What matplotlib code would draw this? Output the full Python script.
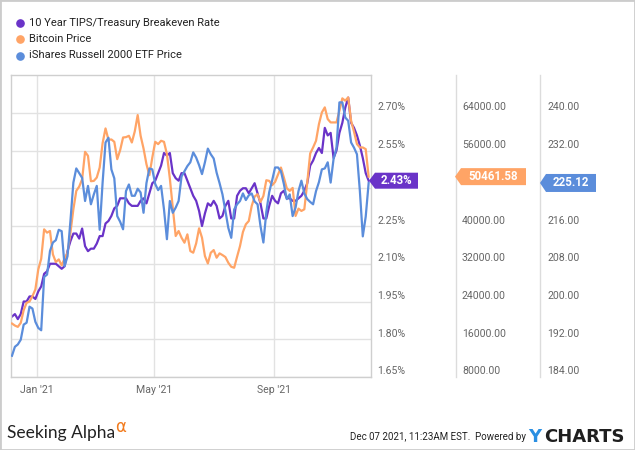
import matplotlib
matplotlib.use('Agg')
import matplotlib.pyplot as plt
import matplotlib.transforms as mtransforms
from matplotlib.patches import Polygon, Rectangle
from matplotlib.lines import Line2D
from matplotlib import font_manager
import pandas as pd

# ---------------- data ----------------
start_date = '2020-12-06'   # series sampled every 3 days up to 2021-12-07
step = '3D'

tips = [1.89, 1.90, 1.88, 1.90, 1.95, 1.95, 1.97, 1.97, 1.96, 1.99,
        2.01, 2.06, 2.07, 2.10, 2.10, 2.10, 2.09, 2.08, 2.09, 2.15,
        2.19, 2.22, 2.22, 2.20, 2.24, 2.17, 2.15, 2.16, 2.16, 2.18,
        2.21, 2.21, 2.26, 2.27, 2.29, 2.32, 2.33, 2.36, 2.36, 2.36,
        2.34, 2.33, 2.33, 2.33, 2.35, 2.36, 2.34, 2.38, 2.42, 2.43,
        2.46, 2.49, 2.54, 2.53, 2.54, 2.46, 2.44, 2.43, 2.46, 2.46,
        2.43, 2.40, 2.37, 2.35, 2.31, 2.25, 2.30, 2.34, 2.33, 2.35,
        2.33, 2.28, 2.29, 2.33, 2.35, 2.28, 2.28, 2.37, 2.39, 2.40,
        2.40, 2.38, 2.40, 2.42, 2.38, 2.34, 2.28, 2.28, 2.33, 2.37,
        2.35, 2.34, 2.38, 2.39, 2.36, 2.36, 2.35, 2.35, 2.36, 2.37,
        2.39, 2.42, 2.49, 2.51, 2.54, 2.56, 2.54, 2.64, 2.61, 2.62,
        2.52, 2.55, 2.62, 2.66, 2.72, 2.76, 2.66, 2.64, 2.61, 2.57,
        2.52, 2.46, 2.43]

btc = [19330, 18900, 18620, 19470, 22160, 23720, 24000, 25130, 26550, 30800,
       33060, 39290, 38590, 38940, 33980, 32360, 32920, 31650, 33130, 34340,
       38590, 43540, 47440, 48360, 49910, 55720, 54870, 49490, 49560, 50270,
       52390, 57560, 60680, 58270, 58340, 57840, 54160, 56070, 58760, 58830,
       59120, 57700, 60040, 63510, 59120, 56430, 53100, 50760, 54520, 57840,
       57350, 58060, 57840, 55220, 50060, 43900, 37880, 38940, 37520, 36460,
       38230, 34690, 34340, 36320, 39510, 37520, 33630, 32070, 34340, 34900,
       33280, 34200, 33840, 33420, 32210, 31360, 31150, 33490, 35750, 38730,
       40360, 41060, 44250, 46230, 46730, 45100, 46370, 49700, 49560, 48640,
       49350, 50900, 52390, 50270, 48000, 47440, 48070, 42130, 43680, 43190,
       43540, 49210, 55370, 56640, 58060, 61600, 64070, 65140, 62660, 61950,
       61950, 61950, 64430, 67050, 66550, 67260, 62300, 59970, 57350, 56640,
       56640, 56290, 50461.58]

iwm = [188.5, 190.4, 190.9, 191.9, 195.1, 195.5, 198.9, 198.5, 195.7, 194.4,
       193.9, 205.2, 205.7, 210.7, 212.5, 213.0, 215.2, 214.9, 207.5, 209.6,
       217.1, 225.2, 228.2, 227.2, 226.2, 221.3, 224.5, 220.6, 222.7, 224.5,
       215.2, 225.2, 233.7, 234.7, 228.0, 226.1, 218.1, 216.9, 215.3, 223.4,
       224.8, 222.4, 222.4, 223.9, 223.1, 218.8, 225.1, 228.2, 228.0, 224.9,
       223.6, 224.5, 219.5, 213.2, 221.3, 218.8, 219.9, 221.3, 226.5, 227.6,
       228.7, 229.5, 231.6, 230.5, 228.9, 227.0, 229.5, 232.4, 231.2, 230.3,
       227.3, 225.1, 222.7, 219.2, 215.6, 213.5, 219.5, 220.6, 221.3, 222.9,
       221.5, 222.5, 222.9, 221.2, 220.6, 216.0, 212.5, 219.0, 223.2, 225.7,
       228.4, 228.4, 227.6, 224.9, 221.7, 222.7, 218.1, 219.9, 223.4, 225.6,
       222.9, 221.7, 221.1, 220.6, 223.4, 225.3, 228.0, 228.2, 229.5, 225.2,
       230.2, 232.6, 242.2, 242.2, 239.0, 238.3, 233.7, 232.6, 231.2, 223.4,
       213.8, 218.0, 225.12]

series_names = ['10 Year TIPS/Treasury Breakeven Rate', 'Bitcoin Price',
                'iShares Russell 2000 ETF Price']
last_labels = ['2.43%', '50461.58', '225.12']

tips_ticks = [1.65, 1.80, 1.95, 2.10, 2.25, 2.40, 2.55, 2.70]
btc_ticks = [8000, 16000, 24000, 32000, 40000, 48000, 56000, 64000]
iwm_ticks = [184, 192, 200, 208, 216, 224, 232, 240]
x_tick_dates = ['2021-01-01', '2021-05-01', '2021-09-01']
x_tick_labels = ["Jan '21", "May '21", "Sep '21"]

# ---------------- style ----------------
PURPLE = '#6a33c8'
ORANGE = '#ffa466'
BLUE = '#5b8ddb'
GRID = '#e2e2e2'
TICKC = '#666666'

names = {f.name for f in font_manager.fontManager.ttflist}
NARROW = 'Liberation Sans Narrow' if 'Liberation Sans Narrow' in names else 'Roboto'
NARROW_SIZE = 8 if NARROW != 'Roboto' else 7
plt.rcParams['font.family'] = ['Roboto', 'DejaVu Sans']

W, H = 635, 450
fig = plt.figure(figsize=(W / 100, H / 100), dpi=100)
fig.patch.set_facecolor('white')


def fx(px):
    return px / W


def fy(py):
    return 1 - py / H


L, R, T, B = 11, 371, 75, 377
ax = fig.add_axes([fx(L), fy(B), (R - L) / W, (B - T) / H])
ax2 = ax.twinx()
ax3 = ax.twinx()

dates = pd.date_range(start_date, periods=len(tips), freq=step)

ax.plot(dates, tips, color=PURPLE, lw=1.6, solid_joinstyle='round')
ax2.plot(dates, btc, color=ORANGE, lw=1.6, solid_joinstyle='round')
ax3.plot(dates, iwm, color=BLUE, lw=1.6, solid_joinstyle='round')

step_t = tips_ticks[1] - tips_ticks[0]
step_b = btc_ticks[1] - btc_ticks[0]
step_i = iwm_ticks[1] - iwm_ticks[0]
ax.set_ylim(tips_ticks[0], tips_ticks[-1] + step_t)
ax2.set_ylim(btc_ticks[0], btc_ticks[-1] + step_b)
ax3.set_ylim(iwm_ticks[0], iwm_ticks[-1] + step_i)
ax.set_xlim(pd.Timestamp('2020-12-05'), pd.Timestamp('2021-12-09 10:00'))

ax.set_yticks(tips_ticks)
ax.set_xticks(pd.to_datetime(x_tick_dates))
ax.grid(True, color=GRID, lw=1.0)
ax.set_axisbelow(True)
for a in (ax, ax2, ax3):
    a.tick_params(length=0, labelleft=False, labelright=False, labelbottom=False)
for a in (ax2, ax3):
    for s in a.spines.values():
        s.set_visible(False)
    a.set_yticks([])
for s in ax.spines.values():
    s.set_color('#cfcfcf')
    s.set_linewidth(1.0)

# right-hand value columns (labels hidden behind the last-value tag are skipped)
off = mtransforms.ScaledTranslation(0, 5.5 / 100, fig.dpi_scale_trans)
cols = [(ax, tips_ticks, lambda v: f'{v:.2f}%', 377, tips[-1], step_t),
        (ax2, btc_ticks, lambda v: f'{v:.2f}', 462, btc[-1], step_b),
        (ax3, iwm_ticks, lambda v: f'{v:.2f}', 547, iwm[-1], step_i)]
for a, ticks, fmt, xp, last, stp in cols:
    tr = mtransforms.blended_transform_factory(fig.transFigure, a.transData) + off
    for v in ticks:
        if abs(v - last) < stp / 3:
            continue
        fig.text(fx(xp), v, fmt(v), transform=tr, ha='left', va='center',
                 fontsize=7.6, color=TICKC, zorder=1)

for xp in (456, 540):
    fig.add_artist(Line2D([fx(xp), fx(xp)], [fy(B), fy(T)], color='#dcdcdc',
                          lw=1.0, transform=fig.transFigure))

# x labels
trx = mtransforms.blended_transform_factory(ax.transData, fig.transFigure)
for d, lab in zip(pd.to_datetime(x_tick_dates), x_tick_labels):
    ax.text(d, fy(390), lab, transform=trx, ha='center', va='center',
            fontsize=7.6, color=TICKC, clip_on=False)

# last value tags
tags = [(ax, tips[-1], last_labels[0], PURPLE, 369, 418, 16),
        (ax2, btc[-1], last_labels[1], ORANGE, 455, 526, 17),
        (ax3, iwm[-1], last_labels[2], BLUE, 540, 596, 18)]
for a, v, lab, c, xt, xr, h in tags:
    yc = a.transData.transform((0, v))[1]
    ar = 6
    verts = [(xt, yc), (xt + ar, yc + h / 2), (xr, yc + h / 2),
             (xr, yc - h / 2), (xt + ar, yc - h / 2)]
    fig.add_artist(Polygon(verts, closed=True, transform=mtransforms.IdentityTransform(),
                           fc=c, ec='none', zorder=5))
    fig.text(((xt + ar + xr) / 2) / W, yc / H, lab, ha='center', va='center',
             color='white', fontsize=8.3, fontweight='bold', zorder=6)

# legend
for i, (nm, c) in enumerate(zip(series_names, [PURPLE, ORANGE, BLUE])):
    yy = [22.5, 39.2, 55.5][i]
    fig.add_artist(Line2D([fx(20)], [fy(yy)], marker='o', ms=5.2, color=c,
                          mec=c, transform=fig.transFigure, ls='none'))
    fig.text(fx(29), fy(yy), nm, ha='left', va='center', fontsize=8, color='#222222')

# footer
fig.text(fx(7), fy(438), 'Seeking Alpha', ha='left', va='baseline', fontsize=12.5,
         family=['Lato', 'DejaVu Sans'], color='#222222')
fig.text(fx(115), fy(432), 'α', ha='left', va='baseline', fontsize=12,
         family=['DejaVu Sans'], color='#f27b1e')
fig.text(fx(526), fy(437), 'Dec 07 2021, 11:23AM EST.  Powered by', ha='right',
         va='center', fontsize=NARROW_SIZE, family=[NARROW, 'DejaVu Sans'],
         color='#222222')
fig.text(fx(528), fy(437), 'Y', ha='left', va='center', fontsize=13,
         family=['DejaVu Sans'], fontweight='bold', color='#2a8fe2')
fig.text(fx(625), fy(437), 'CHARTS', ha='right', va='center', fontsize=13,
         family=['DejaVu Sans'], fontweight='bold', color='#1f1f1f')

# outer border
fig.add_artist(Rectangle((0, 0), 1, 1, transform=fig.transFigure, fill=False,
                         ec='#cccccc', lw=2))

fig.savefig('out.png', dpi=100, facecolor='white')
